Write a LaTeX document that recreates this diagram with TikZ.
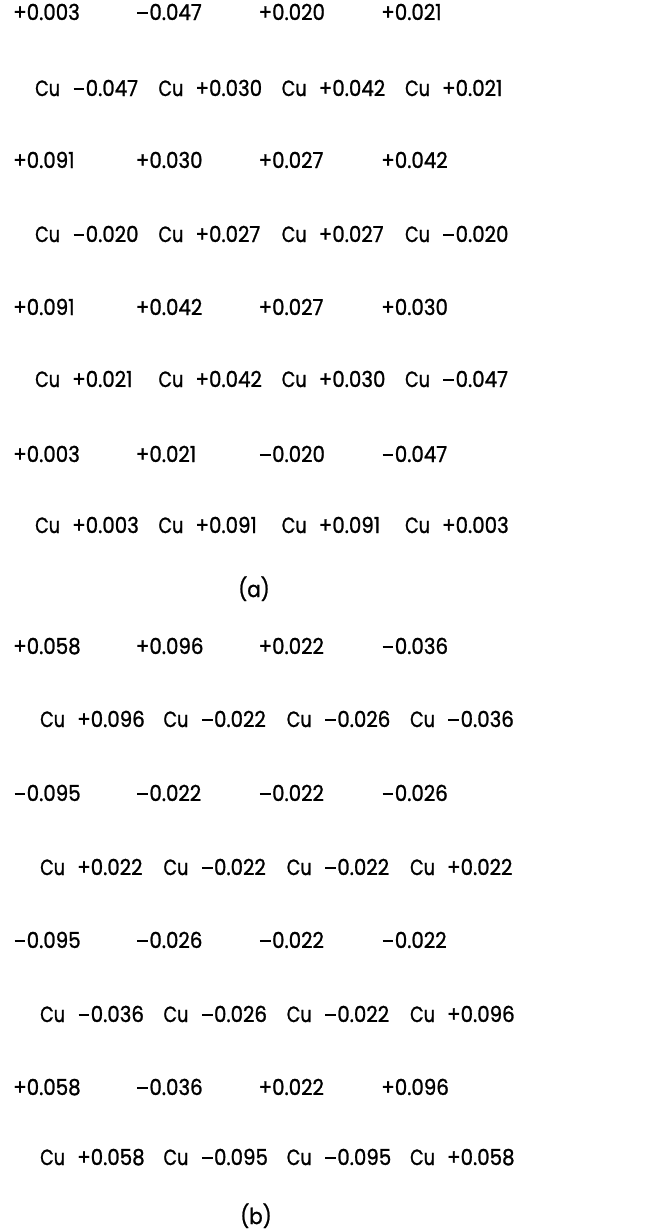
\documentclass[tikz,border=0pt]{standalone}
\usepackage{fontspec}
\setmainfont{Poppins}[FakeBold=1.2]
\newlength\plusw
\newcommand\mn{\settowidth\plusw{+}\makebox[\plusw][c]{\rule[0.26em]{0.8\plusw}{0.085em}}}
\newcommand\sq[1]{\scalebox{0.9}[1]{#1}}
\newcommand\sqcu{\scalebox{0.8}[1]{Cu}}
\newcommand\chgoddrow[3]{%
  \foreach \v [count=\c] in {#3} {
    \pgfmathsetmacro\xx{13+(\c-1)*122.7}
    \node[val] (#1-\c) at (\xx,#2) {\sq{\v}};
  }}
\newcommand\chgevenrow[4]{%
  \foreach \v [count=\c] in {#4} {
    \pgfmathsetmacro\xx{#3+(\c-1)*123.3}
    \node[val] (#1-cu\c) at (\xx,#2) {\sqcu};
    \node[val] (#1-\c) at (\xx+37,#2) {\sq{\v}};
  }}
\begin{document}
\begin{tikzpicture}[x=1pt,y=-1pt,
  val/.style={inner sep=0pt,anchor=base west,font=\fontsize{22}{26}\selectfont},
  caption/.style={inner sep=0pt,anchor=base,font=\fontsize{22}{26}\selectfont}]
\useasboundingbox (0,0) rectangle (647,1232);
% (a)
\chgoddrow{a1}{20}{+0.003,\mn0.047,+0.020,+0.021}
\chgevenrow{a2}{96}{35}{\mn0.047,+0.030,+0.042,+0.021}
\chgoddrow{a3}{168}{+0.091,+0.030,+0.027,+0.042}
\chgevenrow{a4}{242}{35}{\mn0.020,+0.027,+0.027,\mn0.020}
\chgoddrow{a5}{315}{+0.091,+0.042,+0.027,+0.030}
\chgevenrow{a6}{387}{35}{+0.021,+0.042,+0.030,\mn0.047}
\chgoddrow{a7}{462}{+0.003,+0.021,\mn0.020,\mn0.047}
\chgevenrow{a8}{533}{35}{+0.003,+0.091,+0.091,+0.003}
\node[caption] (capa) at (254,597) {\sq{(a)}};
% (b)
\chgoddrow{b1}{654}{+0.058,+0.096,+0.022,\mn0.036}
\chgevenrow{b2}{727}{40}{+0.096,\mn0.022,\mn0.026,\mn0.036}
\chgoddrow{b3}{801}{\mn0.095,\mn0.022,\mn0.022,\mn0.026}
\chgevenrow{b4}{875}{40}{+0.022,\mn0.022,\mn0.022,+0.022}
\chgoddrow{b5}{948}{\mn0.095,\mn0.026,\mn0.022,\mn0.022}
\chgevenrow{b6}{1022}{40}{\mn0.036,\mn0.026,\mn0.022,+0.096}
\chgoddrow{b7}{1095}{+0.058,\mn0.036,+0.022,+0.096}
\chgevenrow{b8}{1165}{40}{+0.058,\mn0.095,\mn0.095,+0.058}
\node[caption] (capb) at (256,1224) {\sq{(b)}};
\end{tikzpicture}
\end{document}
